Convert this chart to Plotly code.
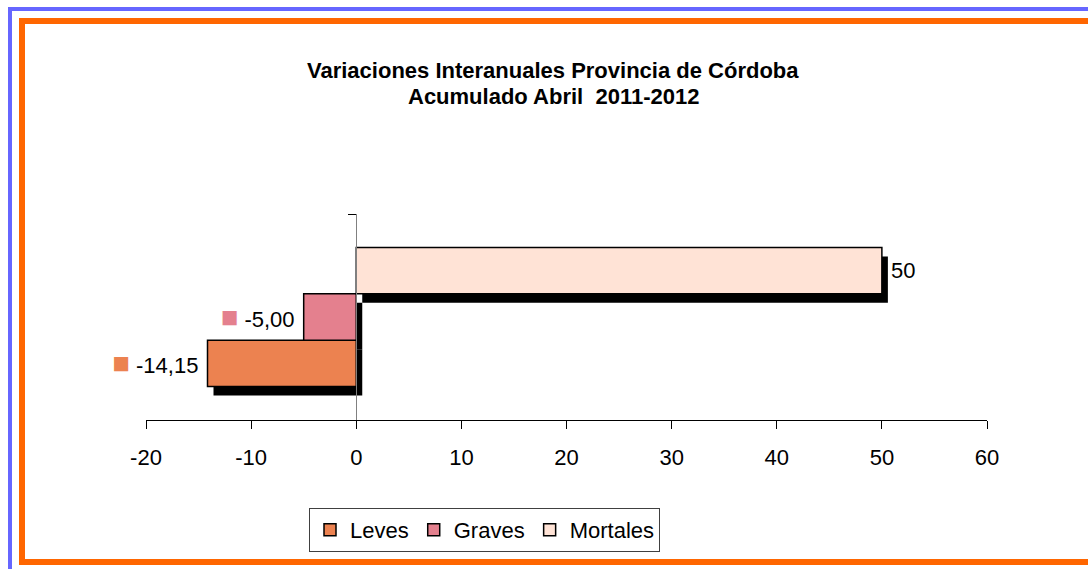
import plotly.graph_objects as go

# ---------------- data ----------------
series = ["Leves", "Graves", "Mortales"]
values = [-14.15, -5.00, 50.0]
value_labels = ["-14,15", "-5,00", "50"]
category = ["Acumulado Abril 2011-2012"]
x_ticks = [-20, -10, 0, 10, 20, 30, 40, 50, 60]
x_range = [-20, 60]
title_lines = ["Variaciones Interanuales Provincia de Córdoba",
               "Acumulado Abril  2011-2012"]

# ---------------- styles ----------------
fill_colors = ["#EC8250", "#E4808E", "#FFE3D6"]
FONT = "Liberation Sans, Arial, sans-serif"
W, H = 1088, 569
L, R, T, B = 146, 95, 214, 140
DX, DY = 6, 9          # shadow offset in px
PW, PH = W - L - R, H - T - B


def px_x(p):
    return (p - L) / PW


def px_y(p):
    return (H - B - p) / PH


fig = go.Figure()

# shadows (drawn first, on shifted axes)
for s, v in zip(series, values):
    fig.add_trace(go.Bar(
        y=category, x=[v], orientation="h", name=s,
        marker=dict(color="black", line=dict(width=0)),
        xaxis="x", yaxis="y", showlegend=False, hoverinfo="skip"))

# main bars
for s, v, lab, c in zip(series, values, value_labels, fill_colors):
    if v < 0:
        txt = (f'<span style="color:{c};font-size:29px">■</span>'
               f'\u00a0{lab}\u00a0')
    else:
        txt = f"\u00a0{lab}"
    fig.add_trace(go.Bar(
        y=category, x=[v], orientation="h", name=s,
        marker=dict(color=c, line=dict(color="black", width=1.5)),
        text=[txt], textposition="outside", constraintext="none",
        textfont=dict(family=FONT, size=22, color="black"),
        cliponaxis=False, xaxis="x2", yaxis="y2", hoverinfo="skip"))

main_xdom = [0, (PW - DX) / PW]
zero_pos = (0 - x_range[0]) / (x_range[1] - x_range[0]) * main_xdom[1]

fig.update_layout(
    width=W, height=H,
    margin=dict(l=L, r=R, t=T, b=B, pad=0),
    paper_bgcolor="white", plot_bgcolor="rgba(0,0,0,0)",
    barmode="group", bargap=0.325,
    font=dict(family=FONT, size=22, color="black"),
    xaxis=dict(domain=[DX / PW, 1], range=x_range, visible=False),
    yaxis=dict(domain=[0, (PH - DY) / PH], range=[-0.5, 0.5],
               type="category", visible=False),
    xaxis2=dict(domain=main_xdom, range=x_range, anchor="y2",
                tickmode="array", tickvals=x_ticks,
                ticktext=[str(t) for t in x_ticks],
                ticks="outside", ticklen=8, tickcolor="black", tickwidth=1,
                showline=True, linecolor="black", linewidth=1,
                showgrid=False, zeroline=False,
                tickfont=dict(family=FONT, size=22, color="black"),
                ticklabelstandoff=10),
    yaxis2=dict(domain=[DY / PH, 1], range=[-0.5, 0.5], type="category",
                anchor="free", position=zero_pos,
                showline=True, linecolor="#808080", linewidth=1,
                ticks="outside", tickson="boundaries", ticklen=8,
                tickcolor="black", showticklabels=False,
                showgrid=False, zeroline=False),
    showlegend=True,
    legend=dict(orientation="h", x=px_x(484.5), y=px_y(508),
                xanchor="center", yanchor="top",
                bordercolor="#404040", borderwidth=1,
                font=dict(family=FONT, size=22, color="black"),
                itemwidth=30, traceorder="normal"),
)

# title lines
for line, yc in zip(title_lines, [70, 97]):
    fig.add_annotation(text=f"<b>{line}</b>", xref="paper", yref="paper",
                       x=px_x(553), y=px_y(yc), xanchor="center",
                       yanchor="middle", showarrow=False,
                       font=dict(family=FONT, size=22, color="black"))

# decorative frame borders
fig.add_shape(type="rect", xref="paper", yref="paper",
              x0=px_x(10), x1=px_x(1120), y0=px_y(600), y1=px_y(9),
              line=dict(color="#6666FF", width=4), fillcolor="rgba(0,0,0,0)",
              layer="below")
fig.add_shape(type="rect", xref="paper", yref="paper",
              x0=px_x(22), x1=px_x(1120), y0=px_y(562), y1=px_y(21),
              line=dict(color="#FF6600", width=6), fillcolor="rgba(0,0,0,0)",
              layer="below")

fig.write_html(
    "out.html",
    config={"displayModeBar": False},
    post_script="document.body.style.margin='0';"
                "document.body.style.overflow='hidden';")
